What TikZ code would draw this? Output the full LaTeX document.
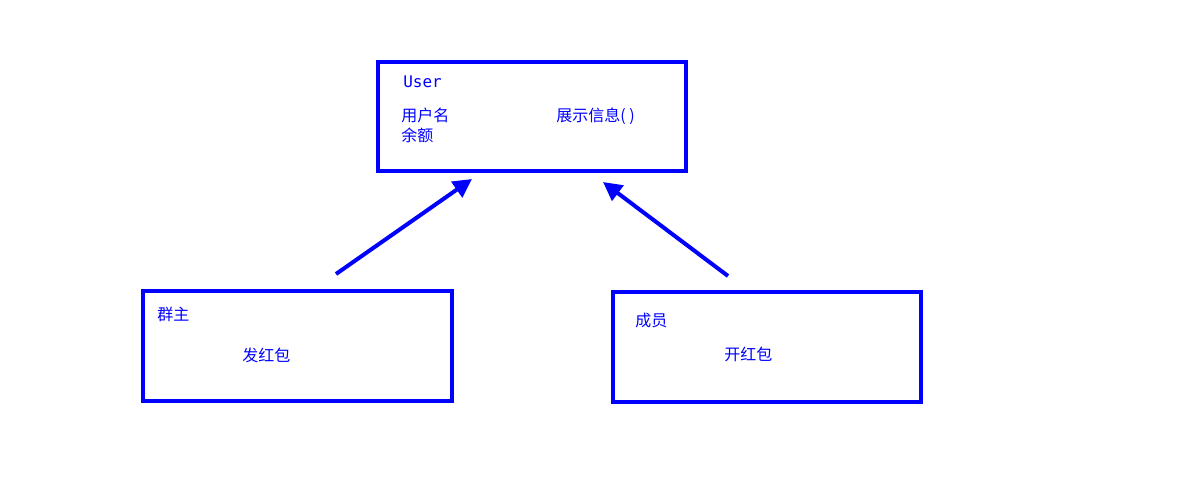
\documentclass[tikz,border=0pt]{standalone}
\usepackage{fontspec}
\setmainfont{DejaVu Sans Mono}
\newfontfamily\cjk{Noto Sans CJK SC}
\usetikzlibrary{arrows.meta}
\begin{document}
\begin{tikzpicture}[x=0.75pt,y=-0.75pt,
  box/.style={draw=blue,line width=3pt},
  lbl/.style={anchor=west,text=blue,font=\fontsize{12}{14}\selectfont\cjk,inner sep=0pt},
  arr/.style={draw=blue,line width=3pt,-{Triangle[length=14pt,width=14pt]}}]
\useasboundingbox (0,0) rectangle (1200,500);
\draw[box] (378,62) rectangle (686,171);
\draw[box] (143,291) rectangle (452,401);
\draw[box] (613,292) rectangle (921,402);
\node[lbl,font=\fontsize{12}{14}\selectfont] (u) at (403,82) {User};
\node[lbl] (u1) at (401,115) {用户名};
\node[lbl] (u2) at (401,135) {余额};
\node[lbl] (u3) at (556,116) {展示信息( )};
\node[lbl] (g1) at (157,314) {群主};
\node[lbl] (g2) at (242,355) {发红包};
\node[lbl] (m1) at (635,320) {成员};
\node[lbl] (m2) at (724,354) {开红包};
\coordinate (a1) at (336,274); \coordinate (b1) at (472,179);
\coordinate (a2) at (728,276); \coordinate (b2) at (603,182);
\draw[arr] (a1) -- (b1);
\draw[arr] (a2) -- (b2);
\end{tikzpicture}
\end{document}
